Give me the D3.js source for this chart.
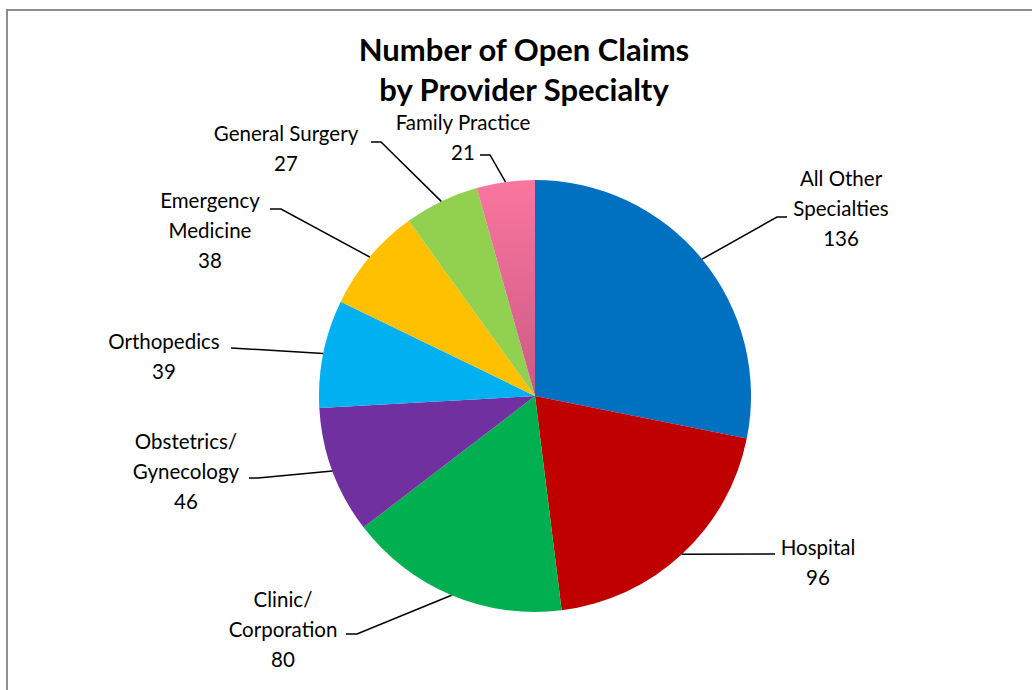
<!DOCTYPE html>
<html>
<head>
    <style>
        body { margin: 0; background: #fff; }
        .title { font: bold 31px Lato, "Open Sans", sans-serif; text-anchor: middle; fill: #000; }
        .lbl text { font: 20.5px Lato, "Open Sans", sans-serif; text-anchor: middle; fill: #000; }
        .lbl path { fill: none; stroke: #000; stroke-width: 1.5; }
    </style>
    <script src="https://d3js.org/d3.v7.min.js"></script>
</head>
<body>
<svg width="1032" height="690"></svg>
<script>
    // data
    var specialties = ["All Other Specialties", "Hospital", "Clinic/ Corporation", "Obstetrics/ Gynecology",
                       "Orthopedics", "Emergency Medicine", "General Surgery", "Family Practice"];
    var claims = [136, 96, 80, 46, 39, 38, 27, 21];
    var colors = ["#0070C0", "#C00000", "#00B050", "#7030A0", "#00B0F0", "#FFC000", "#92D050", "url(#pinkGrad)"];

    // label text lines (wrapped like the original)
    var labelLines = [["All Other", "Specialties"], ["Hospital"], ["Clinic/", "Corporation"], ["Obstetrics/", "Gynecology"],
                      ["Orthopedics"], ["Emergency", "Medicine"], ["General Surgery"], ["Family Practice"]];
    // label layout: text centre x, first line y, elbow point, end of leader
    var labelPos = [
        {x: 841, y: 179, elbow: [777, 217], end: [787, 217]},
        {x: 818, y: 548, elbow: [775, 554], end: [775, 554]},
        {x: 283, y: 600, elbow: [357, 634], end: [346, 634]},
        {x: 186, y: 442, elbow: [258, 478], end: [249, 478]},
        {x: 164, y: 342, elbow: [231, 348], end: [231, 348]},
        {x: 210, y: 201, elbow: [281, 209], end: [270, 209]},
        {x: 286, y: 134, elbow: [381, 142], end: [371, 142]},
        {x: 463, y: 123, elbow: [490, 155], end: [480, 155]}
    ];

    var svg = d3.select("svg");
    var cx = 535, cy = 396, radius = 216;

    var defs = svg.append("defs");
    var grad = defs.append("linearGradient").attr("id", "pinkGrad")
        .attr("gradientUnits", "userSpaceOnUse")
        .attr("x1", 0).attr("y1", -radius).attr("x2", 0).attr("y2", 0);
    grad.append("stop").attr("offset", "0%").attr("stop-color", "#F9769F");
    grad.append("stop").attr("offset", "100%").attr("stop-color", "#CC5A84");

    // chart border (runs off the right and bottom like the screenshot)
    svg.append("rect")
        .attr("x", 7).attr("y", 10)
        .attr("width", 1100).attr("height", 800)
        .attr("fill", "none").attr("stroke", "#8e8e8e").attr("stroke-width", 2);

    svg.append("text").attr("class", "title").attr("x", 524).attr("y", 61).text("Number of Open Claims");
    svg.append("text").attr("class", "title").attr("x", 524).attr("y", 101).text("by Provider Specialty");

    var data = specialties.map(function(s, i) { return {name: s, value: claims[i], i: i}; });

    var pie = d3.pie().sort(null).value(function(d) { return d.value; });
    var arc = d3.arc().innerRadius(0).outerRadius(radius);
    var edge = d3.arc().innerRadius(radius).outerRadius(radius);

    var g = svg.append("g").attr("transform", "translate(" + cx + "," + cy + ")");
    var arcs = pie(data);

    g.selectAll(".slice")
        .data(arcs)
        .enter().append("path")
        .attr("class", "slice")
        .attr("d", arc)
        .attr("fill", function(d) { return colors[d.data.i]; });

    var lbl = svg.selectAll(".lbl")
        .data(arcs)
        .enter().append("g")
        .attr("class", "lbl");

    lbl.append("path")
        .attr("d", function(d) {
            var p = labelPos[d.data.i];
            var c = edge.centroid(d);
            return "M" + (c[0] + cx) + "," + (c[1] + cy) + "L" + p.elbow + "L" + p.end;
        });

    lbl.each(function(d) {
        var p = labelPos[d.data.i];
        var lines = labelLines[d.data.i].concat([String(d.data.value)]);
        var t = d3.select(this);
        lines.forEach(function(line, k) {
            t.append("text")
                .attr("x", p.x)
                .attr("y", p.y + k * 30)
                .attr("dy", "0.35em")
                .text(line);
        });
    });
</script>
</body>
</html>
